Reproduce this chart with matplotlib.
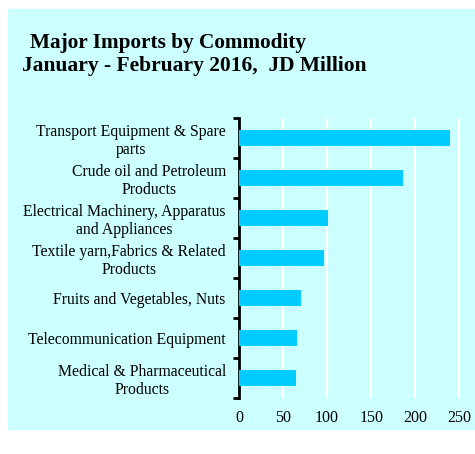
import matplotlib.pyplot as plt
from matplotlib.patches import Rectangle
from matplotlib.ticker import FixedLocator

# 主要輸入品目 (2016年1-2月, 百万JD)
commodities = [
    "Transport Equipment & Spare\nparts",
    "Crude oil and Petroleum\nProducts",
    "Electrical Machinery, Apparatus\nand Appliances",
    "Textile yarn,Fabrics & Related\nProducts",
    "Fruits and Vegetables, Nuts",
    "Telecommunication Equipment",
    "Medical & Pharmaceutical\nProducts",
]
values = [239, 186, 101, 97, 70, 66, 64.5]
x_ticks = [0, 50, 100, 150, 200, 250]

bg = "#CCFFFF"
bar_color = "#00CCFF"

plt.rcParams["font.family"] = ["Liberation Serif", "DejaVu Serif"]

fig = plt.figure(figsize=(4.75, 4.54), dpi=100)
fig.patches.append(Rectangle((8 / 475, 1 - 429 / 454), 1, 420 / 454,
                             transform=fig.transFigure, color=bg, zorder=-1))

ax = fig.add_axes([239 / 475, 1 - 398 / 454, 222 / 475, 280 / 454])
ax.set_facecolor(bg)

pos = list(range(len(commodities)))
ax.barh(pos, values, height=0.4, color=bar_color, zorder=3)

ax.set_xlim(0, 252)
ax.set_ylim(len(commodities) - 0.5, -0.5)

# 目盛線は白の縦線のみ
ax.set_xticks(x_ticks)
ax.grid(axis="x", color="white", linewidth=1.5, zorder=1)
ax.tick_params(axis="x", length=0, labelsize=11.5, pad=9)

# カテゴリ境界に外向きの目盛、ラベルは中央に
ax.yaxis.set_major_locator(FixedLocator([p - 0.5 for p in pos] + [len(pos) - 0.5]))
ax.yaxis.set_major_formatter(plt.NullFormatter())
ax.yaxis.set_minor_locator(FixedLocator(pos))
ax.set_yticklabels(commodities, minor=True, fontsize=11.3, multialignment="center",
                   linespacing=1.15)
ax.tick_params(axis="y", which="major", length=4, width=2, direction="out")
ax.tick_params(axis="y", which="minor", length=0, pad=9.5)

for s in ["top", "right", "bottom"]:
    ax.spines[s].set_visible(False)
ax.spines["left"].set_linewidth(2)

fig.text(30 / 475, 1 - 43 / 454, "Major Imports by Commodity",
         fontsize=15.3, fontweight="bold", va="center")
fig.text(22 / 475, 1 - 66 / 454, "January - February 2016,  JD Million",
         fontsize=15.5, fontweight="bold", va="center")

fig.savefig("out.png", dpi=100)
